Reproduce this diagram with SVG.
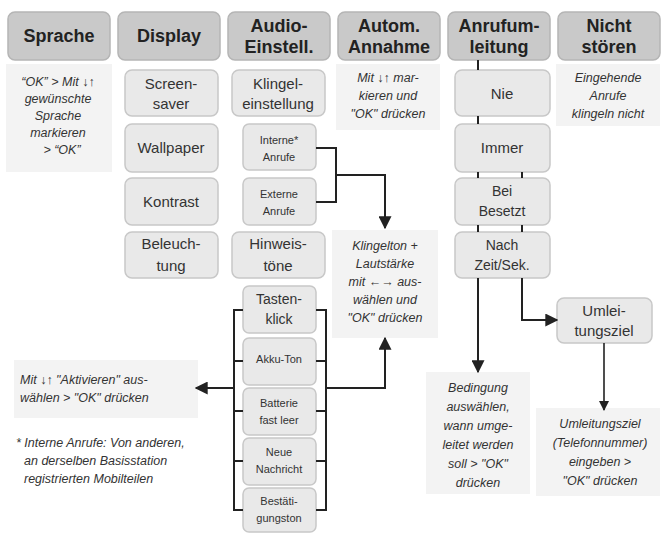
<svg xmlns="http://www.w3.org/2000/svg" width="662" height="535" viewBox="0 0 662 535">
<defs>
<style>
.h{fill:#c9c9c9;stroke:#b5b5b5;stroke-width:1.5}
.b{fill:#e9e9e9;stroke:#c8c8c8;stroke-width:1.5}
.n{fill:#f3f3f3}
.ht{font-family:"Liberation Sans",Arial,sans-serif;font-weight:bold;font-size:18px;fill:#222;text-anchor:middle}
.bt{font-family:"Liberation Sans",Arial,sans-serif;font-size:15px;fill:#333;text-anchor:middle}
.st{font-family:"Liberation Sans",Arial,sans-serif;font-size:11px;fill:#333;text-anchor:middle}
.it{font-family:"Liberation Sans",Arial,sans-serif;font-style:italic;font-size:12.5px;fill:#333;text-anchor:middle}
.c{fill:none;stroke:#222;stroke-width:2}
</style>
<marker id="a" viewBox="0 0 10 10" refX="9" refY="5" markerWidth="6.5" markerHeight="6.5" orient="auto"><path d="M0,0L10,5L0,10z" fill="#222"/></marker>
</defs>
<g id="notes">
<rect class="n" x="6" y="64" width="106" height="108"/>
<text class="it" y="86"><tspan x="58">“OK” &gt; Mit ↓↑</tspan><tspan x="58" dy="17">gewünschte</tspan><tspan x="58" dy="17">Sprache</tspan><tspan x="58" dy="17">markieren</tspan><tspan x="62" dy="17">&gt; “OK”</tspan></text>
<rect class="n" x="336" y="64" width="104" height="66"/>
<text class="it" y="82"><tspan x="388">Mit ↓↑ mar-</tspan><tspan x="388" dy="18">kieren und</tspan><tspan x="388" dy="18">"OK" drücken</tspan></text>
<rect class="n" x="556" y="64" width="104" height="62"/>
<text class="it" y="82"><tspan x="608">Eingehende</tspan><tspan x="608" dy="18">Anrufe</tspan><tspan x="608" dy="18">klingeln nicht</tspan></text>
<rect class="n" x="332" y="230" width="106" height="108"/>
<text class="it" y="250"><tspan x="385">Klingelton +</tspan><tspan x="385" dy="18">Lautstärke</tspan><tspan x="385" dy="18">mit ←→ aus-</tspan><tspan x="385" dy="18">wählen und</tspan><tspan x="385" dy="18">"OK" drücken</tspan></text>
<rect class="n" x="14" y="360" width="184" height="58"/>
<text class="it" y="384" style="text-anchor:start"><tspan x="20">Mit ↓↑ "Aktivieren" aus-</tspan><tspan x="20" dy="18">wählen &gt; "OK" drücken</tspan></text>
<text class="it" y="447" style="text-anchor:start"><tspan x="16">* Interne Anrufe: Von anderen,</tspan><tspan x="24" dy="18">an derselben Basisstation</tspan><tspan x="24" dy="18">registrierten Mobilteilen</tspan></text>
<rect class="n" x="426" y="372" width="104" height="122"/>
<text class="it" y="392"><tspan x="478">Bedingung</tspan><tspan x="478" dy="19">auswählen,</tspan><tspan x="478" dy="19">wann umge-</tspan><tspan x="478" dy="19">leitet werden</tspan><tspan x="478" dy="19">soll  &gt;  "OK"</tspan><tspan x="478" dy="19">drücken</tspan></text>
<rect class="n" x="536" y="408" width="124" height="88"/>
<text class="it" y="428"><tspan x="600">Umleitungsziel</tspan><tspan x="600" dy="19">(Telefonnummer)</tspan><tspan x="600" dy="19">eingeben  &gt;</tspan><tspan x="600" dy="19">"OK" drücken</tspan></text>
</g>
<g id="headers">
<rect class="h" x="8" y="12" width="102" height="48" rx="7"/><text class="ht" x="59" y="42">Sprache</text>
<rect class="h" x="118" y="12" width="102" height="48" rx="7"/><text class="ht" x="169" y="42">Display</text>
<rect class="h" x="228" y="12" width="102" height="48" rx="7"/><text class="ht" x="279" y="32">Audio-</text><text class="ht" x="279" y="53">Einstell.</text>
<rect class="h" x="338" y="12" width="102" height="48" rx="7"/><text class="ht" x="389" y="32">Autom.</text><text class="ht" x="389" y="53">Annahme</text>
<rect class="h" x="448" y="12" width="102" height="48" rx="7"/><text class="ht" x="499" y="32">Anrufum-</text><text class="ht" x="499" y="53">leitung</text>
<rect class="h" x="558" y="12" width="102" height="48" rx="7"/><text class="ht" x="609" y="32">Nicht</text><text class="ht" x="609" y="53">stören</text>
</g>
<g id="display">
<rect class="b" x="125" y="70" width="93" height="46" rx="7"/><text class="bt" x="171" y="89">Screen-</text><text class="bt" x="171" y="109">saver</text>
<rect class="b" x="125" y="124" width="93" height="48" rx="7"/><text class="bt" x="171" y="153">Wallpaper</text>
<rect class="b" x="125" y="178" width="93" height="47" rx="7"/><text class="bt" x="171" y="207">Kontrast</text>
<rect class="b" x="125" y="232" width="93" height="46" rx="7"/><text class="bt" x="171" y="249">Beleuch-</text><text class="bt" x="171" y="271">tung</text>
</g>
<g id="audio">
<rect class="b" x="232" y="70" width="93" height="46" rx="7"/><text class="bt" x="278" y="89">Klingel-</text><text class="bt" x="278" y="109">einstellung</text>
<rect class="b" x="243" y="124" width="73" height="46" rx="6"/><text class="st" x="279" y="144">Interne*</text><text class="st" x="279" y="161">Anrufe</text>
<rect class="b" x="243" y="178" width="73" height="47" rx="6"/><text class="st" x="279" y="198">Externe</text><text class="st" x="279" y="215">Anrufe</text>
<rect class="b" x="232" y="232" width="93" height="46" rx="7"/><text class="bt" x="278" y="249">Hinweis-</text><text class="bt" x="278" y="271">töne</text>
<rect class="b" x="243" y="286" width="73" height="47" rx="6"/><text class="bt" x="279" y="304" style="font-size:14px">Tasten-</text><text class="bt" x="279" y="324" style="font-size:14px">klick</text>
<rect class="b" x="243" y="338" width="73" height="47" rx="6"/><text class="st" x="279" y="363">Akku-Ton</text>
<rect class="b" x="243" y="388" width="73" height="47" rx="6"/><text class="st" x="279" y="407">Batterie</text><text class="st" x="279" y="424">fast leer</text>
<rect class="b" x="243" y="438" width="73" height="47" rx="6"/><text class="st" x="279" y="456">Neue</text><text class="st" x="279" y="473">Nachricht</text>
<rect class="b" x="243" y="488" width="73" height="44" rx="6"/><text class="st" x="279" y="505">Bestäti-</text><text class="st" x="279" y="522">gungston</text>
</g>
<g id="anruf">
<rect class="b" x="455" y="70" width="95" height="46" rx="7"/><text class="bt" x="502" y="99">Nie</text>
<rect class="b" x="455" y="124" width="95" height="48" rx="7"/><text class="bt" x="502" y="153">Immer</text>
<rect class="b" x="455" y="178" width="95" height="47" rx="7"/><text class="bt" x="502" y="196" style="font-size:14px">Bei</text><text class="bt" x="502" y="216" style="font-size:14px">Besetzt</text>
<rect class="b" x="455" y="232" width="95" height="46" rx="7"/><text class="bt" x="502" y="250" style="font-size:14px">Nach</text><text class="bt" x="502" y="270" style="font-size:14px">Zeit/Sek.</text>
<rect class="b" x="557" y="298" width="95" height="45" rx="7"/><text class="bt" x="604" y="316">Umlei-</text><text class="bt" x="604" y="336">tungsziel</text>
</g>
<g id="connectors">
<path class="c" d="M316,148H336V202H316M336,175H385V228" marker-end="url(#a)"/>
<path class="c" d="M243,310H234V510H243M234,361H243M234,411H243M234,461H243"/>
<path class="c" d="M316,310H326V510H316M326,361H316M326,411H316M326,461H316"/>
<path class="c" d="M234,388H196" marker-end="url(#a)"/>
<path class="c" d="M326,388H385V338" marker-end="url(#a)"/>
<path class="c" d="M478,60V70M478,116V124M478,172V178M522,172V178M478,225V232M522,225V232"/>
<path class="c" d="M478,278V372" marker-end="url(#a)"/>
<path class="c" d="M522,278V320H557" marker-end="url(#a)"/>
<path class="c" style="stroke-width:1.6" d="M604,343V410" marker-end="url(#a)"/>
</g>
</svg>
